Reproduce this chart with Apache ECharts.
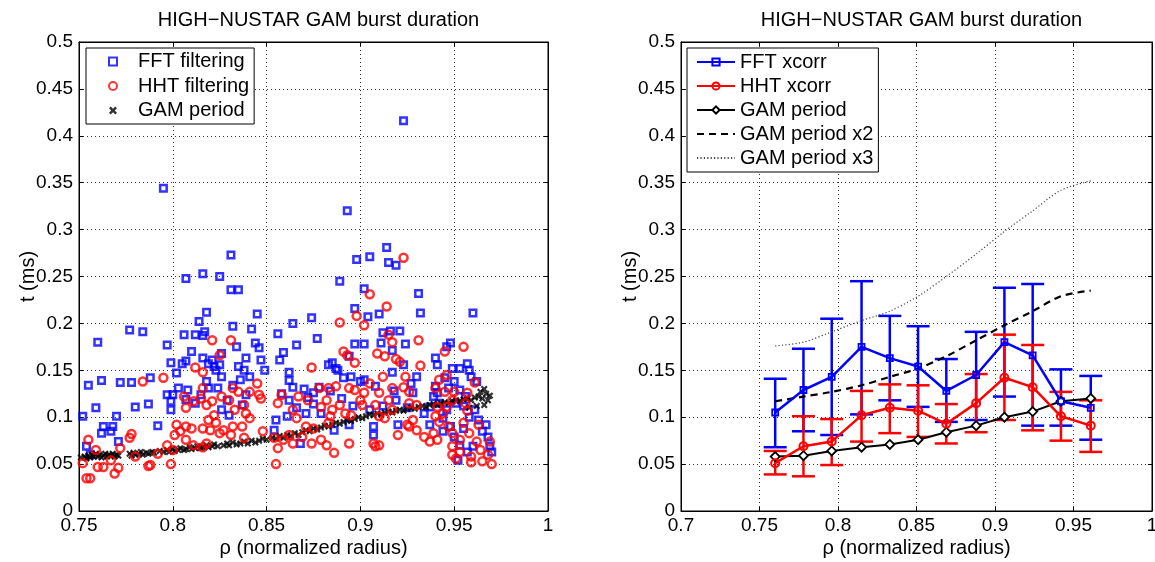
<!DOCTYPE html>
<html>
<head>
<meta charset="utf-8">
<script src="https://cdn.jsdelivr.net/npm/echarts@6/dist/echarts.min.js"></script>
<style>
html,body{margin:0;padding:0;background:#fff;}
#chart{width:1155px;height:562px;}
</style>
</head>
<body>
<div id="chart"></div>
<script>
// ---------- DATA ----------
const chartTitle = 'HIGH\u2212NUSTAR GAM burst duration';
const xName = '\u03c1 (normalized radius)';
const yName = 't (ms)';

// Left panel: scatter of burst durations [rho, t(ms)]
const fftPoints = [
[0.923,0.416],[0.795,0.344],[0.893,0.320],[0.914,0.281],[0.905,0.271],[0.898,0.268],[0.915,0.265],[0.919,0.262],[0.831,0.273],[0.807,0.248],[0.816,0.253],[0.825,0.250],[0.831,0.236],[0.835,0.236],[0.889,0.245],[0.902,0.237],[0.931,0.232],[0.932,0.211],[0.960,0.211],[0.818,0.212],[0.845,0.210],[0.897,0.216],[0.910,0.210],[0.904,0.207],[0.874,0.206],[0.864,0.200],[0.814,0.202],[0.832,0.197],[0.777,0.193],[0.784,0.191],[0.842,0.194],[0.806,0.188],[0.812,0.188],[0.817,0.191],[0.816,0.187],[0.856,0.189],[0.877,0.184],[0.912,0.190],[0.916,0.192],[0.921,0.192],[0.760,0.180],[0.797,0.177],[0.834,0.175],[0.844,0.179],[0.846,0.174],[0.866,0.177],[0.897,0.178],[0.902,0.178],[0.911,0.179],[0.924,0.178],[0.948,0.179],[0.946,0.175],[0.917,0.171],[0.810,0.170],[0.826,0.168],[0.859,0.169],[0.857,0.161],[0.847,0.161],[0.839,0.163],[0.816,0.163],[0.821,0.161],[0.807,0.160],[0.805,0.157],[0.799,0.158],[0.802,0.147],[0.940,0.163],[0.941,0.156],[0.883,0.156],[0.885,0.158],[0.887,0.152],[0.888,0.150],[0.894,0.165],[0.923,0.156],[0.949,0.152],[0.953,0.152],[0.957,0.157],[0.958,0.150],[0.959,0.143],[0.962,0.138],[0.755,0.134],[0.762,0.139],[0.772,0.137],[0.778,0.137],[0.788,0.142],[0.797,0.124],[0.800,0.124],[0.803,0.131],[0.808,0.129],[0.818,0.138],[0.819,0.131],[0.822,0.154],[0.826,0.143],[0.823,0.150],[0.819,0.157],[0.825,0.156],[0.835,0.154],[0.838,0.150],[0.841,0.143],[0.836,0.140],[0.832,0.134],[0.824,0.131],[0.849,0.150],[0.862,0.148],[0.862,0.139],[0.864,0.132],[0.870,0.130],[0.875,0.126],[0.875,0.114],[0.879,0.104],[0.862,0.118],[0.871,0.104],[0.855,0.097],[0.854,0.086],[0.861,0.101],[0.868,0.072],[0.891,0.142],[0.895,0.143],[0.900,0.138],[0.902,0.140],[0.908,0.133],[0.917,0.148],[0.930,0.143],[0.927,0.136],[0.919,0.118],[0.925,0.110],[0.934,0.104],[0.937,0.092],[0.920,0.092],[0.907,0.090],[0.907,0.081],[0.894,0.092],[0.886,0.086],[0.752,0.101],[0.759,0.110],[0.770,0.101],[0.780,0.111],[0.787,0.114],[0.792,0.091],[0.763,0.090],[0.762,0.083],[0.768,0.090],[0.767,0.085],[0.771,0.074],[0.754,0.069],[0.756,0.060],[0.799,0.108],[0.830,0.102],[0.940,0.133],[0.941,0.126],[0.947,0.131],[0.953,0.129],[0.956,0.122],[0.951,0.115],[0.961,0.108],[0.963,0.097],[0.967,0.092],[0.968,0.079],[0.969,0.069],[0.970,0.063],[0.946,0.108],[0.944,0.099],[0.948,0.090],[0.950,0.079],[0.953,0.070],[0.957,0.063],[0.952,0.054],[0.960,0.069],[0.937,0.111],[0.942,0.115],[0.939,0.122],[0.812,0.115],[0.815,0.124],[0.799,0.117],[0.807,0.119],[0.829,0.118],[0.837,0.113],[0.839,0.124],[0.872,0.121],[0.878,0.132],[0.884,0.128],[0.890,0.120],[0.896,0.112],[0.905,0.108],[0.912,0.112],[0.918,0.128],[0.928,0.126],[0.945,0.142],[0.950,0.138],[0.955,0.112],[0.958,0.100],[0.944,0.085],[0.955,0.088],[0.965,0.085],[0.858,0.125],[0.866,0.110],[0.826,0.108]
];
const hhtPoints = [
[0.923,0.270],[0.905,0.231],[0.914,0.218],[0.898,0.208],[0.889,0.201],[0.902,0.198],[0.915,0.188],[0.917,0.180],[0.931,0.182],[0.955,0.175],[0.821,0.182],[0.831,0.182],[0.825,0.166],[0.891,0.170],[0.893,0.166],[0.909,0.168],[0.913,0.165],[0.945,0.170],[0.897,0.158],[0.919,0.162],[0.921,0.159],[0.932,0.155],[0.812,0.153],[0.816,0.148],[0.874,0.153],[0.784,0.138],[0.795,0.142],[0.816,0.131],[0.912,0.143],[0.924,0.143],[0.946,0.145],[0.942,0.140],[0.961,0.137],[0.845,0.136],[0.832,0.131],[0.835,0.127],[0.841,0.127],[0.846,0.124],[0.847,0.120],[0.858,0.124],[0.867,0.122],[0.872,0.118],[0.878,0.131],[0.883,0.131],[0.887,0.133],[0.894,0.131],[0.897,0.129],[0.902,0.126],[0.905,0.136],[0.910,0.126],[0.917,0.131],[0.923,0.132],[0.926,0.127],[0.940,0.131],[0.945,0.127],[0.950,0.127],[0.957,0.126],[0.806,0.122],[0.807,0.110],[0.811,0.117],[0.815,0.120],[0.818,0.113],[0.821,0.117],[0.826,0.122],[0.830,0.118],[0.833,0.108],[0.838,0.113],[0.839,0.104],[0.841,0.099],[0.856,0.115],[0.864,0.108],[0.866,0.099],[0.879,0.111],[0.882,0.118],[0.885,0.108],[0.889,0.113],[0.892,0.104],[0.895,0.102],[0.900,0.118],[0.901,0.113],[0.908,0.113],[0.910,0.101],[0.915,0.118],[0.917,0.108],[0.913,0.099],[0.926,0.115],[0.930,0.113],[0.928,0.097],[0.926,0.090],[0.930,0.086],[0.925,0.092],[0.920,0.081],[0.934,0.079],[0.937,0.074],[0.941,0.076],[0.940,0.101],[0.941,0.111],[0.942,0.095],[0.944,0.104],[0.947,0.090],[0.949,0.083],[0.949,0.069],[0.949,0.060],[0.951,0.056],[0.953,0.076],[0.953,0.063],[0.955,0.094],[0.957,0.107],[0.958,0.083],[0.959,0.058],[0.959,0.052],[0.962,0.074],[0.963,0.092],[0.964,0.065],[0.965,0.053],[0.968,0.060],[0.970,0.050],[0.969,0.074],[0.946,0.111],[0.949,0.118],[0.956,0.115],[0.939,0.083],[0.752,0.051],[0.755,0.076],[0.754,0.035],[0.756,0.035],[0.759,0.065],[0.760,0.047],[0.763,0.047],[0.767,0.054],[0.769,0.040],[0.771,0.046],[0.772,0.067],[0.777,0.078],[0.778,0.082],[0.780,0.058],[0.787,0.048],[0.788,0.049],[0.792,0.061],[0.797,0.070],[0.799,0.050],[0.800,0.065],[0.802,0.092],[0.804,0.085],[0.801,0.081],[0.807,0.090],[0.810,0.088],[0.807,0.076],[0.811,0.070],[0.816,0.068],[0.818,0.072],[0.816,0.088],[0.819,0.097],[0.822,0.102],[0.823,0.094],[0.820,0.086],[0.825,0.083],[0.827,0.086],[0.832,0.090],[0.837,0.090],[0.831,0.081],[0.838,0.078],[0.848,0.085],[0.854,0.078],[0.856,0.067],[0.855,0.050],[0.859,0.076],[0.862,0.081],[0.864,0.072],[0.869,0.079],[0.871,0.090],[0.875,0.088],[0.874,0.072],[0.879,0.076],[0.882,0.070],[0.886,0.062],[0.883,0.094],[0.884,0.101],[0.894,0.072],[0.907,0.072],[0.910,0.070],[0.908,0.069]
];
const gamPoints = [
[0.751,0.057],[0.753,0.058],[0.754,0.056],[0.755,0.059],[0.756,0.057],[0.757,0.060],[0.758,0.058],[0.759,0.061],[0.760,0.058],[0.761,0.060],[0.762,0.057],[0.763,0.059],[0.764,0.061],[0.765,0.058],[0.766,0.060],[0.767,0.059],[0.768,0.061],[0.769,0.058],[0.770,0.060],[0.771,0.059],
[0.777,0.061],[0.778,0.059],[0.779,0.062],[0.780,0.060],[0.782,0.061],[0.783,0.063],[0.784,0.060],[0.786,0.062],[0.787,0.061],[0.789,0.063],[0.790,0.062],
[0.793,0.064],[0.795,0.063],[0.797,0.065],[0.798,0.063],[0.800,0.066],[0.801,0.064],[0.803,0.065],[0.804,0.067],[0.806,0.065],[0.807,0.066],[0.809,0.068],[0.810,0.066],[0.812,0.067],[0.813,0.069],[0.815,0.067],[0.816,0.068],[0.818,0.070],[0.819,0.068],[0.821,0.069],[0.822,0.071],[0.824,0.069],
[0.827,0.070],[0.829,0.072],[0.830,0.070],[0.832,0.073],[0.834,0.071],[0.836,0.072],[0.838,0.074],[0.840,0.072],[0.842,0.075],[0.844,0.073],[0.846,0.075],[0.848,0.077],[0.850,0.076],
[0.853,0.078],[0.855,0.077],[0.857,0.080],[0.859,0.078],[0.861,0.081],[0.863,0.080],[0.865,0.083],[0.867,0.081],[0.869,0.084],[0.871,0.086],[0.873,0.085],[0.875,0.088],[0.877,0.087],[0.879,0.089],[0.881,0.091],[0.883,0.090],[0.885,0.092],[0.887,0.094],[0.889,0.093],[0.891,0.095],[0.893,0.097],[0.895,0.096],[0.897,0.098],[0.899,0.100],[0.901,0.099],[0.903,0.101],[0.905,0.103],[0.907,0.102],[0.909,0.104],[0.911,0.103],[0.913,0.105],[0.915,0.106],[0.917,0.105],[0.919,0.107],[0.921,0.108],[0.923,0.107],[0.925,0.109],[0.927,0.110],[0.929,0.109],[0.931,0.111],[0.933,0.112],[0.935,0.111],[0.937,0.113],[0.939,0.114],[0.941,0.113],[0.943,0.115],[0.945,0.116],[0.947,0.115],[0.949,0.117],[0.951,0.118],[0.953,0.117],[0.955,0.119],[0.957,0.120],[0.959,0.118],[0.961,0.121],[0.963,0.122],[0.965,0.120],[0.966,0.130],[0.967,0.125],[0.968,0.118],[0.969,0.123],[0.964,0.127],[0.962,0.112],[0.958,0.110],[0.966,0.113]
];

// Right panel: binned averages
const rhoBins    = [0.760, 0.778, 0.796, 0.815, 0.833, 0.851, 0.869, 0.888, 0.906, 0.924, 0.942, 0.961];
const fftMean    = [0.105, 0.129, 0.143, 0.175, 0.163, 0.154, 0.128, 0.145, 0.180, 0.166, 0.117, 0.110];
const fftLow     = [0.068, 0.085, 0.081, 0.103, 0.118, 0.111, 0.095, 0.097, 0.122, 0.091, 0.091, 0.076];
const fftHigh    = [0.141, 0.173, 0.205, 0.245, 0.208, 0.197, 0.162, 0.191, 0.238, 0.242, 0.151, 0.144];
const hhtMean    = [0.051, 0.069, 0.074, 0.102, 0.110, 0.107, 0.093, 0.115, 0.142, 0.132, 0.101, 0.091];
const hhtLow     = [0.039, 0.037, 0.049, 0.074, 0.083, 0.079, 0.072, 0.084, 0.097, 0.086, 0.075, 0.063];
const hhtHigh    = [0.064, 0.101, 0.098, 0.128, 0.135, 0.134, 0.114, 0.146, 0.188, 0.177, 0.127, 0.118];
const gamPeriod  = [0.058, 0.059, 0.064, 0.068, 0.071, 0.076, 0.084, 0.091, 0.100, 0.106, 0.117, 0.120];
const gamPeriodX2 = [0.117, 0.122, 0.127, 0.134, 0.143, 0.152, 0.165, 0.182, 0.198, 0.213, 0.229, 0.235];
const gamPeriodX3 = [0.176, 0.180, 0.191, 0.203, 0.213, 0.229, 0.250, 0.274, 0.298, 0.320, 0.342, 0.352];

// ---------- CHART ----------
const FONT = '"Liberation Sans", Arial, Helvetica, sans-serif';
const BLUE = '#0000ff', RED = '#ff0000', BLACK = '#000000';
const pair = (xs, ys) => xs.map((x, i) => [x, ys[i]]);
const triple = (xs, lo, hi) => xs.map((x, i) => [x, lo[i], hi[i]]);

function valueAxisX(gridIndex, min, show) {
  return {
    type: 'value', gridIndex, min, max: 1, interval: 0.05,
    position: show ? 'bottom' : 'top',
    name: show ? xName : '', nameLocation: 'middle', nameGap: 27, nameMoveOverlap: false,
    nameTextStyle: {fontFamily: FONT, fontSize: 20, color: BLACK},
    axisLine: {show: true, onZero: false, lineStyle: {color: BLACK, width: 1}},
    axisTick: {show: true, inside: true, length: 4, lineStyle: {color: BLACK}},
    axisLabel: {show: show, fontFamily: FONT, fontSize: 19, color: BLACK, margin: 5},
    splitLine: {show: show, lineStyle: {color: '#333', type: [1, 3], width: 1}}
  };
}
function valueAxisY(gridIndex, show) {
  return {
    type: 'value', gridIndex, min: 0, max: 0.5, interval: 0.05,
    position: show ? 'left' : 'right',
    name: show ? yName : '', nameLocation: 'middle', nameGap: 41, nameMoveOverlap: false,
    nameTextStyle: {fontFamily: FONT, fontSize: 20, color: BLACK},
    axisLine: {show: true, onZero: false, lineStyle: {color: BLACK, width: 1}},
    axisTick: {show: true, inside: true, length: 4, lineStyle: {color: BLACK}},
    axisLabel: {show: show, fontFamily: FONT, fontSize: 19, color: BLACK, margin: 6},
    splitLine: {show: show, lineStyle: {color: '#333', type: [1, 3], width: 1}}
  };
}

function errorBarRender(color) {
  return function (params, api) {
    const x = api.value(0);
    const lo = api.coord([x, api.value(1)]);
    const hi = api.coord([x, api.value(2)]);
    const w = 11.5;
    const style = {stroke: color, lineWidth: 2.5, fill: null};
    return {
      type: 'group',
      children: [
        {type: 'line', shape: {x1: lo[0], y1: lo[1], x2: hi[0], y2: hi[1]}, style},
        {type: 'line', shape: {x1: hi[0] - w, y1: hi[1], x2: hi[0] + w, y2: hi[1]}, style},
        {type: 'line', shape: {x1: lo[0] - w, y1: lo[1], x2: lo[0] + w, y2: lo[1]}, style}
      ]
    };
  };
}

const xMark = 'path://M0,2.2L2.2,0L5,2.8L7.8,0L10,2.2L7.2,5L10,7.8L7.8,10L5,7.2L2.2,10L0,7.8L2.8,5Z';
const squareIcon = 'path://M0,0L10,0L10,10L0,10Z';

const gridBase = {show: true, borderColor: BLACK, borderWidth: 1, backgroundColor: '#fff',
                  containLabel: false, outerBoundsMode: 'none'};

const option = {
  backgroundColor: '#ffffff',
  animation: false,
  title: [
    {text: chartTitle, left: 313.5, top: 5, textAlign: 'center',
     textStyle: {fontFamily: FONT, fontSize: 20, fontWeight: 'normal', color: BLACK}},
    {text: chartTitle, left: 916.5, top: 5, textAlign: 'center',
     textStyle: {fontFamily: FONT, fontSize: 20, fontWeight: 'normal', color: BLACK}}
  ],
  grid: [
    Object.assign({left: 79, top: 42, width: 469, height: 469}, gridBase),
    Object.assign({left: 681, top: 42, width: 471, height: 469}, gridBase)
  ],
  xAxis: [valueAxisX(0, 0.75, true), valueAxisX(1, 0.7, true), valueAxisX(0, 0.75, false), valueAxisX(1, 0.7, false)],
  yAxis: [valueAxisY(0, true), valueAxisY(1, true), valueAxisY(0, false), valueAxisY(1, false)],
  legend: [
    {
      data: [{name: 'FFT filtering', icon: squareIcon}, 'HHT filtering', 'GAM period'],
      orient: 'vertical', left: 86, top: 48,
      itemWidth: 40, itemHeight: 8, itemGap: 4.5,
      padding: [3.5, 5, 3.5, 22],
      borderColor: BLACK, borderWidth: 1, backgroundColor: '#fff',
      textStyle: {fontFamily: FONT, fontSize: 20, color: BLACK, lineHeight: 20},
      selectedMode: false
    },
    {
      data: ['FFT xcorr', 'HHT xcorr', 'GAM period (avg)', 'GAM period x2', 'GAM period x3'],
      formatter: n => n.replace(' (avg)', ''),
      orient: 'vertical', left: 687, top: 48,
      itemWidth: 38, itemHeight: 9, itemGap: 4,
      padding: [4, 5, 4, 9],
      borderColor: BLACK, borderWidth: 1, backgroundColor: '#fff',
      textStyle: {fontFamily: FONT, fontSize: 20, color: BLACK, lineHeight: 20},
      selectedMode: false
    }
  ],
  series: [
    {name: 'FFT filtering', type: 'scatter', xAxisIndex: 0, yAxisIndex: 0, data: fftPoints,
     symbol: 'rect', symbolSize: 6.5,
     itemStyle: {color: 'rgba(0,0,0,0)', borderColor: BLUE, borderWidth: 2.5}},
    {name: 'GAM period', type: 'scatter', xAxisIndex: 0, yAxisIndex: 0, data: gamPoints,
     symbol: xMark, symbolSize: 7, itemStyle: {color: BLACK}},
    {name: 'HHT filtering', type: 'scatter', xAxisIndex: 0, yAxisIndex: 0, data: hhtPoints,
     symbol: 'circle', symbolSize: 8,
     itemStyle: {color: 'rgba(0,0,0,0)', borderColor: RED, borderWidth: 2.5}},

    {name: 'GAM period x3', type: 'line', xAxisIndex: 1, yAxisIndex: 1, data: pair(rhoBins, gamPeriodX3),
     symbol: 'none', smooth: 0.3, color: '#444',
     lineStyle: {color: '#444', width: 1.2, type: [1.2, 2.2]},
     itemStyle: {opacity: 0}},
    {name: 'GAM period x2', type: 'line', xAxisIndex: 1, yAxisIndex: 1, data: pair(rhoBins, gamPeriodX2),
     symbol: 'none', smooth: 0.3, color: BLACK,
     lineStyle: {color: BLACK, width: 2.2, type: [7, 5]},
     itemStyle: {opacity: 0}},
    {name: 'GAM period (avg)', type: 'line', xAxisIndex: 1, yAxisIndex: 1, data: pair(rhoBins, gamPeriod),
     symbol: 'diamond', symbolSize: 9, color: BLACK,
     lineStyle: {color: BLACK, width: 2},
     itemStyle: {color: '#fff', borderColor: BLACK, borderWidth: 1.8}},
    {type: 'custom', xAxisIndex: 1, yAxisIndex: 1, data: triple(rhoBins, fftLow, fftHigh),
     renderItem: errorBarRender(BLUE), encode: {x: 0, y: [1, 2]}, silent: true},
    {name: 'FFT xcorr', type: 'line', xAxisIndex: 1, yAxisIndex: 1, data: pair(rhoBins, fftMean),
     symbol: 'rect', symbolSize: 6, color: BLUE,
     lineStyle: {color: BLUE, width: 2.5},
     itemStyle: {color: 'rgba(0,0,0,0)', borderColor: BLUE, borderWidth: 1.8}},
    {type: 'custom', xAxisIndex: 1, yAxisIndex: 1, data: triple(rhoBins, hhtLow, hhtHigh),
     renderItem: errorBarRender(RED), encode: {x: 0, y: [1, 2]}, silent: true},
    {name: 'HHT xcorr', type: 'line', xAxisIndex: 1, yAxisIndex: 1, data: pair(rhoBins, hhtMean),
     symbol: 'circle', symbolSize: 8, color: RED,
     lineStyle: {color: RED, width: 2.5},
     itemStyle: {color: 'rgba(0,0,0,0)', borderColor: RED, borderWidth: 2}}
  ]
};

const chart = echarts.init(document.getElementById('chart'), null, {renderer: 'canvas'});
chart.setOption(option);
</script>
</body>
</html>
